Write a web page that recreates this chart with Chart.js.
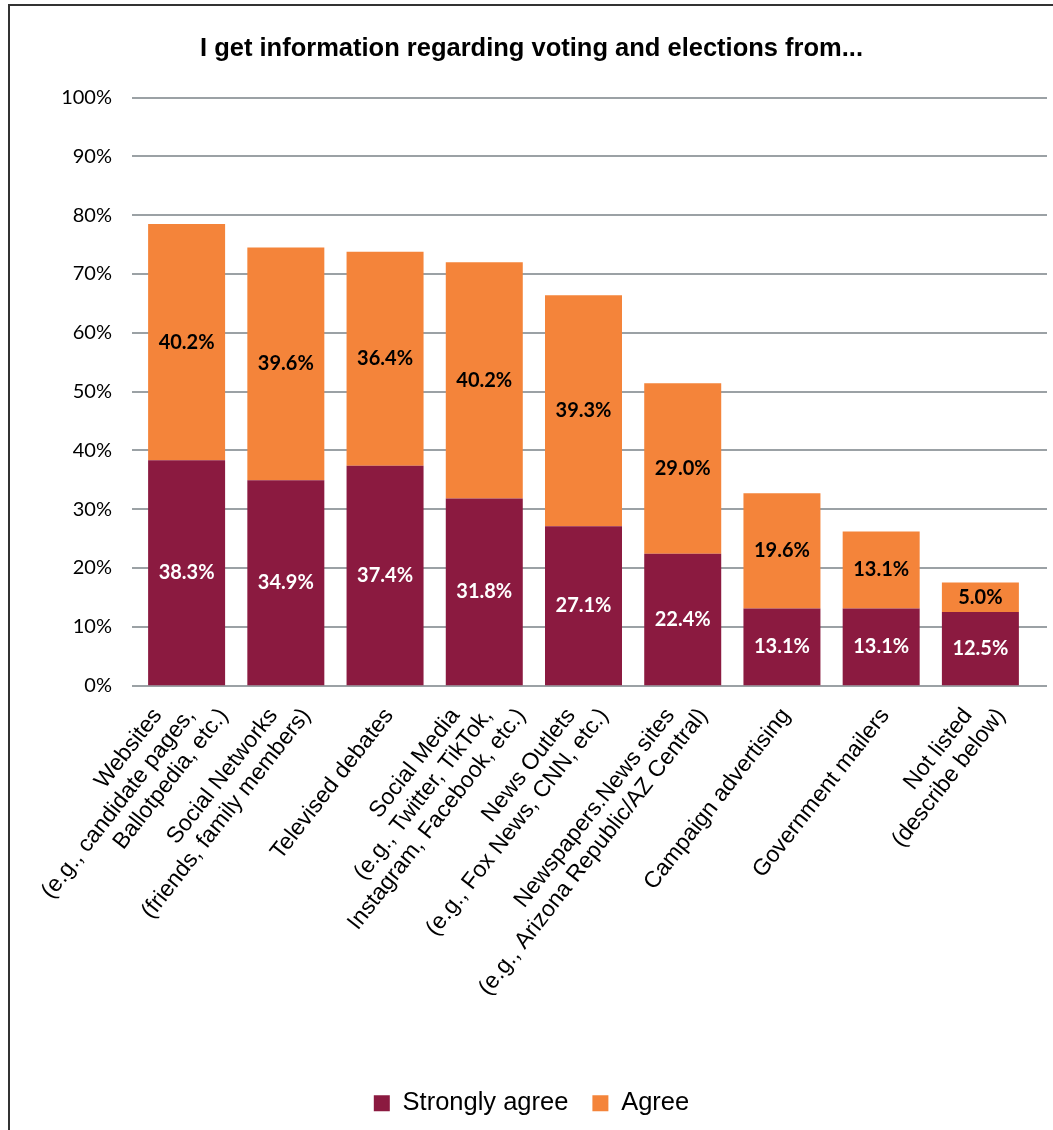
<!DOCTYPE html>
<html lang="en">
<head>
    <meta charset="UTF-8">
    <title>I get information regarding voting and elections from...</title>
    <script src="https://cdn.jsdelivr.net/npm/chart.js@4.4.0/dist/chart.umd.min.js"></script>
    <style>
        html, body { margin: 0; padding: 0; background: #fff; overflow: hidden; }
        .frame {
            position: absolute;
            left: 8px;
            top: 4px;
            width: 1100px;
            height: 1200px;
            border: 2px solid #333;
            pointer-events: none;
        }
        .chart-container {
            position: absolute;
            left: 0;
            top: 0;
            width: 1053px;
            height: 1130px;
        }
    </style>
</head>
<body>
    <div class="chart-container">
        <canvas id="votingChart"></canvas>
    </div>
    <div class="frame"></div>

    <script>
        // Chart data
        const categories = [
            ['Websites', '(e.g., candidate pages,', 'Ballotpedia, etc.)'],
            ['Social Networks', '(friends, family members)'],
            ['Televised debates'],
            ['Social Media', '(e.g., Twitter, TikTok,', 'Instagram, Facebook, etc.)'],
            ['News Outlets', '(e.g., Fox News, CNN, etc.)'],
            ['Newspapers.News sites', '(e.g., Arizona Republic/AZ Central)'],
            ['Campaign advertising'],
            ['Government mailers'],
            ['Not listed', '(describe below)']
        ];
        const stronglyAgree = [38.3, 34.9, 37.4, 31.8, 27.1, 22.4, 13.1, 13.1, 12.5];
        const agree = [40.2, 39.6, 36.4, 40.2, 39.3, 29.0, 19.6, 13.1, 5.0];
        const seriesNames = ['Strongly agree', 'Agree'];
        const yTickValues = [0, 10, 20, 30, 40, 50, 60, 70, 80, 90, 100];

        const colors = {
            strong: '#8b1a40',
            agree: '#f4843a',
            grid: '#9ba1a5'
        };

        // horizontal gridlines, a bit wider than the plot like the original
        const gridPlugin = {
            id: 'wideGrid',
            beforeDatasetsDraw(chart) {
                const ctx = chart.ctx;
                const y = chart.scales.y;
                ctx.save();
                ctx.strokeStyle = colors.grid;
                ctx.lineWidth = 2;
                yTickValues.forEach(v => {
                    const py = Math.round(y.getPixelForValue(v));
                    ctx.beginPath();
                    ctx.moveTo(chart.chartArea.left - 5, py);
                    ctx.lineTo(1047, py);
                    ctx.stroke();
                });
                ctx.restore();
            }
        };

        // percentages in the middle of each segment
        const valueLabels = {
            id: 'valueLabels',
            afterDatasetsDraw(chart) {
                const ctx = chart.ctx;
                ctx.save();
                ctx.font = 'bold 20px Lato';
                ctx.textAlign = 'center';
                ctx.textBaseline = 'middle';
                chart.data.datasets.forEach((ds, di) => {
                    const meta = chart.getDatasetMeta(di);
                    ctx.fillStyle = di === 0 ? '#ffffff' : '#000000';
                    meta.data.forEach((bar, i) => {
                        const mid = (bar.y + bar.base) / 2;
                        ctx.fillText(ds.data[i].toFixed(1) + '%', bar.x, mid);
                    });
                });
                ctx.restore();
            }
        };

        // rotated category labels; every line ends on the same row under the axis,
        // shifted sideways line by line (that is how the original lays them out)
        const categoryLabels = {
            id: 'categoryLabels',
            afterDraw(chart) {
                const ctx = chart.ctx;
                const x = chart.scales.x;
                const lh = 26;
                const deg = 52;
                const angle = -deg * Math.PI / 180;
                const step = lh / Math.sin(deg * Math.PI / 180);
                ctx.save();
                ctx.font = '23px "Liberation Sans", Arial, sans-serif';
                ctx.fillStyle = '#000';
                ctx.textAlign = 'right';
                ctx.textBaseline = 'middle';
                categories.forEach((lines, i) => {
                    const cx = x.getPixelForValue(i) + 4;
                    const cy = chart.chartArea.bottom + 26;
                    lines.forEach((l, k) => {
                        const ex = cx + (k - (lines.length - 1) / 2) * step;
                        ctx.save();
                        ctx.translate(ex, cy);
                        ctx.rotate(angle);
                        ctx.fillText(l, 0, 0);
                        ctx.restore();
                    });
                });
                ctx.restore();
            }
        };

        const ctx = document.getElementById('votingChart').getContext('2d');
        new Chart(ctx, {
            type: 'bar',
            data: {
                labels: categories,
                datasets: [
                    {
                        label: seriesNames[0],
                        data: stronglyAgree,
                        backgroundColor: colors.strong,
                        barPercentage: 0.776,
                        categoryPercentage: 1.0
                    },
                    {
                        label: seriesNames[1],
                        data: agree,
                        backgroundColor: colors.agree,
                        barPercentage: 0.776,
                        categoryPercentage: 1.0
                    }
                ]
            },
            options: {
                responsive: true,
                maintainAspectRatio: false,
                animation: false,
                layout: {
                    padding: { left: 10, right: 0, top: 0, bottom: 4 }
                },
                plugins: {
                    title: {
                        display: true,
                        text: 'I get information regarding voting and elections from...',
                        color: '#000',
                        font: { family: '"Liberation Sans", Arial, sans-serif', size: 25.5, weight: 'bold' },
                        padding: { top: 34, bottom: 33 }
                    },
                    legend: {
                        position: 'bottom',
                        labels: {
                            color: '#000',
                            font: { family: '"Liberation Sans", Arial, sans-serif', size: 25.5 },
                            boxWidth: 16,
                            boxHeight: 16,
                            padding: 24
                        }
                    },
                    tooltip: { enabled: false }
                },
                scales: {
                    x: {
                        stacked: true,
                        grid: { display: false },
                        border: { display: false },
                        ticks: { display: false },
                        afterFit(scale) { scale.height = 381; }
                    },
                    y: {
                        stacked: true,
                        min: 0,
                        max: 100,
                        afterFit(scale) { scale.width = 127; },
                        afterBuildTicks(scale) {
                            scale.ticks = yTickValues.map(v => ({ value: v }));
                        },
                        grid: { display: false },
                        border: { display: false },
                        ticks: {
                            color: '#000',
                            padding: 17,
                            font: { family: 'Lato', size: 20 },
                            callback: v => v + '%'
                        }
                    },
                    // empty strip on the right so the bars stop short of the gridlines
                    spacer: {
                        position: 'right',
                        grid: { display: false },
                        border: { display: false },
                        ticks: { display: false },
                        afterFit(scale) { scale.width = 23; }
                    }
                }
            },
            plugins: [gridPlugin, valueLabels, categoryLabels]
        });
    </script>
</body>
</html>
